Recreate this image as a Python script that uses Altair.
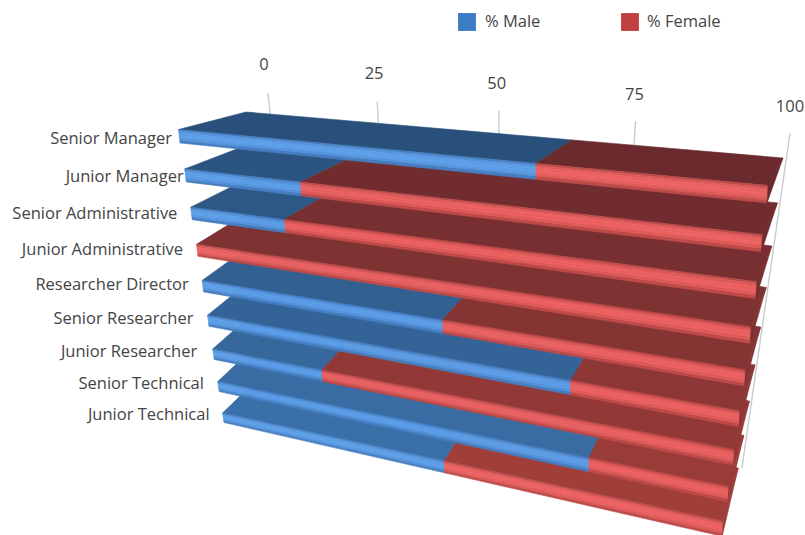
import altair as alt
import pandas as pd

# Staff categories and share of men per grade, in percent
categories = [
    "Senior Manager", "Junior Manager", "Senior Administrative",
    "Junior Administrative", "Researcher Director", "Senior Researcher",
    "Junior Researcher", "Senior Technical", "Junior Technical",
]
male_pct = [66, 24, 20, 0, 50, 73, 25, 77, 50]
ticks = [0, 25, 50, 75, 100]
series = ["% Male", "% Female"]

FONT = "Open Sans"
STRIPS = [0.0, 0.12, 0.26, 0.46, 0.66, 0.84, 1.0]
SHADES = [0.35, 0.78, 1.0, 1.0, 0.8, 0.35]


def mix(a, b, t):
    return tuple(a[i] + (b[i] - a[i]) * t for i in range(3))


def hexc(c):
    return "#%02x%02x%02x" % tuple(int(round(v)) for v in c)


# Perspective of the tilted 3D plot: value -> fraction along a bar's length
def frac(v):
    u = v / 100.0
    k = -0.206
    return u * (1 + k) / (1 + k * u)


def lerp(p, q, t):
    return (p[0] + (q[0] - p[0]) * t, p[1] + (q[1] - p[1]) * t)


# Ends of the three long edges of bar number r
def back_edge(r):
    return (246 + 2.25 * r, 112 + 32.6 * r), (783 - 5.6 * r, 158 + 45.75 * r - 0.875 * r * r)


def lower_edge(r):
    return ((180 + 6.3 * r - 0.1 * r * r, 143 + 39.5 * r - 0.57 * r * r),
            (767 - 5.6 * r, 203 + 49.9 * r - 1.03 * r * r))


def fold_edge(r):
    lo_l, lo_r = lower_edge(r)
    return (lo_l[0] - 1.5, lo_l[1] - (13.5 - 0.5 * r)), (lo_r[0] + 1, lo_r[1] - (17.5 - 0.3 * r))


def on_edge(edge, v):
    return lerp(edge[0], edge[1], frac(v))


def span(poly, x):
    ys = []
    n = len(poly)
    for i in range(n):
        a, b = poly[i], poly[(i + 1) % n]
        lo, hi = min(a[0], b[0]), max(a[0], b[0])
        if lo <= x <= hi:
            if a[0] == b[0]:
                ys += [a[1], b[1]]
            else:
                ys.append(a[1] + (b[1] - a[1]) * (x - a[0]) / (b[0] - a[0]))
    return min(ys), max(ys)


rows = []
counter = 0


def add_poly(poly, color):
    global counter
    counter += 1
    for x in sorted({p[0] for p in poly}):
        y0, y1 = span(poly, x)
        rows.append({"poly": counter, "x": x, "y": y0, "y2": y1, "color": color})


TOP = {"m": ((41, 80, 122), (58, 112, 168)), "f": ((106, 42, 46), (160, 62, 58))}
DIM = {"m": (58, 108, 172), "f": (165, 62, 60)}
LIT = {"m": (92, 158, 232), "f": (236, 98, 98)}

# Bars are painted from the lowest row upward so each one overlaps the next
for r in range(len(categories) - 1, -1, -1):
    t = r / (len(categories) - 1)
    back, fold, lower = back_edge(r), fold_edge(r), lower_edge(r)
    m = male_pct[r]
    for key, v0, v1 in (("m", 0, m), ("f", m, 100)):
        if v1 <= v0:
            continue
        top = hexc(mix(TOP[key][0], TOP[key][1], t))
        add_poly([on_edge(back, v0), on_edge(back, v1), on_edge(fold, v1), on_edge(fold, v0)], top)
        for i, shade in enumerate(SHADES):
            s0, s1 = STRIPS[i], STRIPS[i + 1]
            e0 = (lerp(fold[0], lower[0], s0), lerp(fold[1], lower[1], s0))
            e1 = (lerp(fold[0], lower[0], s1), lerp(fold[1], lower[1], s1))
            add_poly([on_edge(e0, v0), on_edge(e0, v1), on_edge(e1, v1), on_edge(e1, v0)],
                     hexc(mix(DIM[key], LIT[key], shade)))
    # Closing wedge at the far end of the bar
    red_dark = hexc(mix(TOP["f"][0], TOP["f"][1], t))
    add_poly([back[1], lower[1], fold[1]], red_dark)

bars = pd.DataFrame(rows)

X = alt.X("x:Q", scale=alt.Scale(domain=[0, 805], range=[0, 805]), axis=None)
Y = alt.Y("y:Q", scale=alt.Scale(domain=[0, 535], range=[0, 535]), axis=None, stack=None)

grid = pd.DataFrame([
    {"x": 268 + 522 * frac(v), "y": 93 + 40 * frac(v),
     "x2": 301 + 441 * frac(v), "y2": 400 + 68 * frac(v)} for v in ticks
])
tick_text = pd.DataFrame([
    {"x": 264 + 526 * frac(v), "y": 65 + 42 * frac(v), "label": str(v)} for v in ticks
])
cat_nudge = [0, 7, -4, -3, -2, -2, -3, -1, 0]
cat_text = pd.DataFrame([
    {"x": 172 + 4.7 * r + cat_nudge[r], "y": 138.5 + 38.5 * r - 0.5 * r * r, "label": c}
    for r, c in enumerate(categories)
])
key_marks = pd.DataFrame([
    {"x": 467, "y": 22, "color": "#3d7cc4", "label": series[0], "tx": 485},
    {"x": 630, "y": 22, "color": "#c0403f", "label": series[1], "tx": 647},
])

grid_layer = alt.Chart(grid).mark_rule(color="#c6cbd0", strokeWidth=1.4).encode(
    x=X, y=Y, x2="x2:Q", y2="y2:Q")

bar_layer = alt.Chart(bars).mark_area(strokeWidth=0.6, interpolate="linear").encode(
    x=X, y=Y, y2="y2:Q",
    detail="poly:N",
    fill=alt.Fill("color:N", scale=None),
    stroke=alt.Stroke("color:N", scale=None),
)

text_style = dict(font=FONT, fontSize=16.5, color="#444444")
tick_layer = alt.Chart(tick_text).mark_text(align="center", baseline="middle", **text_style).encode(
    x=X, y=Y, text="label:N")
cat_layer = alt.Chart(cat_text).mark_text(align="right", baseline="middle", **text_style).encode(
    x=X, y=Y, text="label:N")
key_swatch = alt.Chart(key_marks).mark_square(size=320, opacity=1).encode(
    x=X, y=Y, fill=alt.Fill("color:N", scale=None))
key_label = alt.Chart(key_marks).mark_text(align="left", baseline="middle", **text_style).encode(
    x=alt.X("tx:Q", scale=alt.Scale(domain=[0, 805], range=[0, 805]), axis=None), y=Y, text="label:N")

chart = alt.layer(
    grid_layer, bar_layer, tick_layer, cat_layer, key_swatch, key_label
).properties(
    width=805, height=535, padding=0, background="white",
    autosize=alt.AutoSizeParams(type="none"),
).configure_view(stroke=None)

chart.save("out.html", embed_options={"renderer": "svg", "actions": False})
